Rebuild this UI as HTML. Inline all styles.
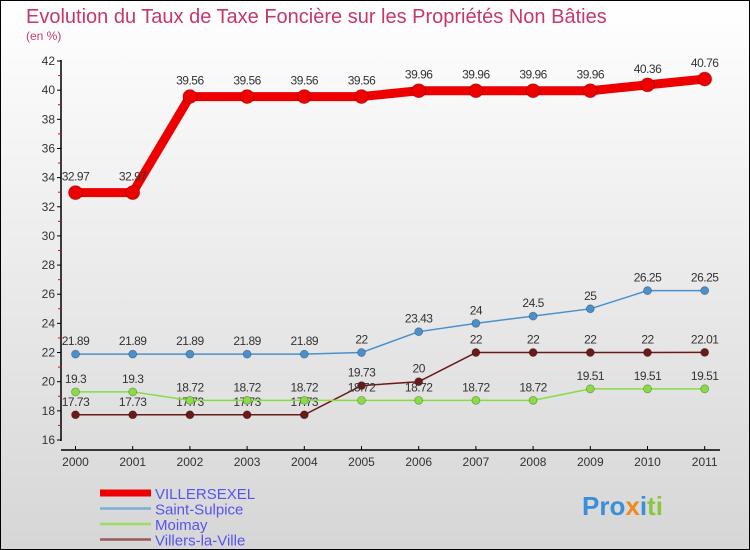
<!DOCTYPE html>
<html><head><meta charset="utf-8"><style>
html,body{margin:0;padding:0}
svg{display:block;font-family:"Liberation Sans",sans-serif}
</style></head><body>
<svg id="chart" width="750" height="550" viewBox="0 0 750 550">
<defs><linearGradient id="bg" x1="0" y1="0" x2="0" y2="1"><stop offset="0" stop-color="#ffffff"/><stop offset="1" stop-color="#d6d6d6"/></linearGradient></defs>
<rect x="0.5" y="0.5" width="749" height="549" fill="url(#bg)" stroke="#000"/>
<text x="26" y="23" font-size="20" fill="#c8366e">Evolution du Taux de Taxe Foncière sur les Propriétés Non Bâties</text>
<text x="26" y="40" font-size="12" fill="#c8366e">(en %)</text>
<g id="axes"></g><g id="series"></g><g id="legend"></g>
<g font-size="26" font-weight="bold">
<text x="582" y="515" fill="#3a8fd8">Pro<tspan fill="#f08a1c">x</tspan><tspan fill="#3a8fd8">i</tspan><tspan fill="#8cc63e">ti</tspan></text>
</g>
</svg>
<script>
const years=[2000,2001,2002,2003,2004,2005,2006,2007,2008,2009,2010,2011];
const villersexel=[32.97,32.97,39.56,39.56,39.56,39.56,39.96,39.96,39.96,39.96,40.36,40.76];
const saintSulpice=[21.89,21.89,21.89,21.89,21.89,22,23.43,24,24.5,25,26.25,26.25];
const moimay=[19.3,19.3,18.72,18.72,18.72,18.72,18.72,18.72,18.72,19.51,19.51,19.51];
const villersLaVille=[17.73,17.73,17.73,17.73,17.73,19.73,20,22,22,22,22,22.01];
const yTicks=[16,18,20,22,24,26,28,30,32,34,36,38,40,42];
const NS='http://www.w3.org/2000/svg';
const x=i=>75.5+i*57.2;
const y=v=>440-(v-16)*(379/26);
function mk(tag,attrs,parent,txt){const e=document.createElementNS(NS,tag);for(const k in attrs)e.setAttribute(k,attrs[k]);if(txt!=null)e.textContent=txt;parent.appendChild(e);return e;}
const axes=document.getElementById('axes');
let e=mk('line',{x1:61,y1:60,x2:61,y2:441,stroke:'#000','stroke-width':1.5},axes);


e=mk('line',{x1:61,y1:450,x2:720,y2:450,stroke:'#000','stroke-width':1.5},axes);


yTicks.forEach(t=>{
  mk('line',{x1:57,y1:y(t),x2:61,y2:y(t),stroke:'#000'},axes);
  if(t<42) mk('line',{x1:58,y1:y(t+1),x2:61,y2:y(t+1),stroke:'#e00'},axes);
  e=mk('text',{x:55,y:y(t)+4,'font-size':12,fill:'#333','text-anchor':'end'},axes,String(t));
  
  
});
years.forEach((yr,i)=>{
  mk('line',{x1:x(i),y1:446,x2:x(i),y2:450,stroke:'#000'},axes);
  e=mk('text',{x:x(i),y:466,'font-size':12,fill:'#333','text-anchor':'middle'},axes,String(yr));
  
  
});
const ser=document.getElementById('series');
function draw(vals,color,w,r,name,labelDy){
  const g=mk('g',{},ser);
  
  
  const p=mk('polyline',{points:vals.map((v,i)=>x(i)+','+y(v)).join(' '),fill:'none',stroke:color,'stroke-width':w,'stroke-linejoin':'round'},g);
  
  
  vals.forEach((v,i)=>{
    const c=mk('circle',{cx:x(i),cy:y(v),r:r,fill:color,stroke:'rgba(0,0,0,0.3)','stroke-width':0.8},g);
    
    
    const t=mk('text',{x:x(i),y:y(v)+labelDy,'font-size':12,fill:'#333','text-anchor':'middle','letter-spacing':'-0.5'},g,String(v));
    
    
  });
}
draw(villersLaVille,'#6b1a1a',1.5,4,'villers-la-ville',-9);
draw(moimay,'#88dd44',1.5,4,'moimay',-9);
draw(saintSulpice,'#4a90cc',1.5,4,'saint-sulpice',-9);
draw(villersexel,'#ee0000',9,7,'villersexel',-12);
const leg=document.getElementById('legend');
const items=[['VILLERSEXEL','#ee0000',7],['Saint-Sulpice','#7aaed6',2.5],['Moimay','#99dd66',2.5],['Villers-la-Ville','#9a5a5a',2.5]];
items.forEach((it,i)=>{
  const ly=493+i*15.5;
  const g=mk('g',{},leg);
  
  
  mk('line',{x1:100,y1:ly,x2:151,y2:ly,stroke:it[1],'stroke-width':it[2]},g);
  mk('text',{x:155,y:ly+6,'font-size':15,fill:'#5555ee'},g,it[0]);
});
</script>
</body></html>
